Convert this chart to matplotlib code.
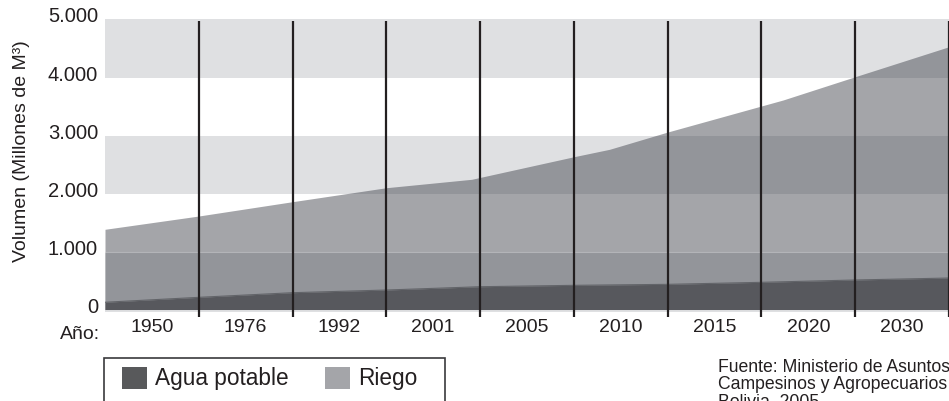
import matplotlib
matplotlib.use('Agg')
import matplotlib.pyplot as plt
import numpy as np
from matplotlib.patches import Rectangle, Patch
from matplotlib.transforms import ScaledTranslation

# ---- data ----
years = ['1950', '1976', '1992', '2001', '2005', '2010', '2015', '2020', '2030']
y_ticks = [0, 1000, 2000, 3000, 4000, 5000]
y_tick_labels = ['0', '1.000', '2.000', '3.000', '4.000', '5.000']

agua_x = [0, 1, 2, 3, 4, 5, 6, 7, 8, 9]
agua_potable = [125, 210, 290, 336, 393, 417, 434, 469, 509, 543]

riego_top_x = [0, 1, 2, 3, 3.91, 5, 5.38, 6, 7, 7.23, 8, 9]
riego_top = [1383, 1612, 1859, 2100, 2245, 2634, 2762, 3060, 3509, 3612, 4014, 4531]

series_names = ['Agua potable', 'Riego']
series_colors = ['#58595b', '#a4a5a9']

TXT = '#231f20'
plt.rcParams['font.family'] = ['Liberation Sans', 'DejaVu Sans']

W, H = 949, 401
fig = plt.figure(figsize=(W / 100, H / 100), dpi=100)
ax = fig.add_axes([105 / W, 1 - 312.3 / H, 844 / W, (312.3 - 19.5) / H])
ax.set_xlim(0, 9)
ax.set_ylim(-48, 5000)
for s in ax.spines.values():
    s.set_visible(False)

# areas
ax.fill_between(riego_top_x, 0, riego_top, color=series_colors[1], lw=0, zorder=1)
ax.fill_between(agua_x, 0, agua_potable, color='#5d5d60', lw=0, zorder=1.5)
ax.plot(agua_x, agua_potable, color='#6a6b6e', lw=0.8, zorder=1.6)

# alternating bands
for lo, hi in [(-48, 1000), (2000, 3000), (4000, 5000)]:
    ax.axhspan(lo, hi, color='#3d4350', alpha=0.16, lw=0, zorder=2)
ax.axhline(1000, color='white', alpha=0.3, lw=0.8, zorder=2.1)

# vertical separators
ax.vlines(np.arange(1, 10), -124, 4974, colors=TXT, lw=1.6, zorder=3, clip_on=False)

# y tick labels
ax.set_yticks([])
off = ScaledTranslation(0, 0.025, fig.dpi_scale_trans)
for v, lab in zip(y_ticks, y_tick_labels):
    ax.text(-7 / 844, v, lab, transform=ax.get_yaxis_transform() + off,
            ha='right', va='center', fontsize=14.5, color=TXT)

# x tick labels
ax.set_xticks(np.arange(len(years)) + 0.5, years)
ax.tick_params(axis='x', length=0, pad=5, labelsize=14, labelcolor=TXT)

fig.text(100 / W, 1 - 339 / H, 'Año:', ha='right', va='baseline', fontsize=14, color=TXT)

fig.text(22 / W, 1 - 151.5 / H, 'Volumen (Millones de M³)', rotation=90,
         ha='center', va='center', fontsize=14, color=TXT)

# legend
handles = [Patch(facecolor=c, edgecolor='none') for c in series_colors]
fig.legend(handles, series_names, ncol=2, loc='upper left',
           bbox_to_anchor=(122 / W, 1 - 367 / H), frameon=False, borderpad=0,
           borderaxespad=0, fontsize=16.3, handlelength=1.09, handleheight=1.09,
           handletextpad=0.35, columnspacing=1.64, labelcolor=TXT)
fig.patches.append(Rectangle((104 / W, -0.1), (445 - 104) / W, (401 - 358) / H + 0.1,
                             transform=fig.transFigure, fill=False,
                             edgecolor='#3a3a3c', lw=1.2))

fig.text(718 / W, 1 - 359.5 / H,
         'Fuente: Ministerio de Asuntos\nCampesinos y Agropecuarios\nBolivia, 2005',
         ha='left', va='top', fontsize=12.7, linespacing=0.99, color=TXT)

fig.savefig('out.png', dpi=100)
